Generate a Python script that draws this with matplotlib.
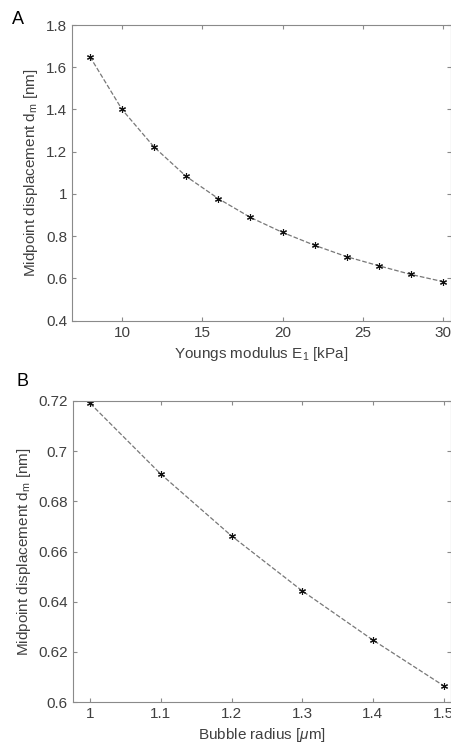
import matplotlib
matplotlib.use("Agg")
import matplotlib.pyplot as plt

# Panel A: Young's modulus sweep
modulus_kpa = [8, 10, 12, 14, 16, 18, 20, 22, 24, 26, 28, 30]
disp_a_nm = [1.65, 1.40, 1.222, 1.083, 0.978, 0.889, 0.818, 0.757, 0.703, 0.660, 0.619, 0.585]

# Panel B: bubble radius sweep
radius_um = [1.0, 1.1, 1.2, 1.3, 1.4, 1.5]
disp_b_nm = [0.719, 0.6908, 0.6662, 0.6443, 0.6247, 0.6065]

AX_COL = "#8a8a8a"
TXT_COL = "#404040"

plt.rcParams["font.family"] = ["Liberation Sans", "DejaVu Sans"]
plt.rcParams["mathtext.fontset"] = "custom"
plt.rcParams["mathtext.rm"] = "Liberation Sans"
plt.rcParams["mathtext.it"] = "Liberation Sans:italic"

fig = plt.figure(figsize=(4.51, 7.47), dpi=100)
ax_a = fig.add_axes([0.1596, 0.5707, 0.8404, 0.3958])
ax_b = fig.add_axes([0.1610, 0.0602, 0.8390, 0.4030])


def style(ax):
    for sp in ax.spines.values():
        sp.set_color(AX_COL)
        sp.set_linewidth(0.8)
    ax.tick_params(direction="in", length=3, width=0.8, color=AX_COL,
                   labelcolor=TXT_COL, labelsize=11, top=True, right=True)


ASTERISK = (6, 2, 0)

ax_a.plot(modulus_kpa, disp_a_nm, linestyle="--", color="#777777", linewidth=0.9, zorder=1)
ax_a.plot(modulus_kpa, disp_a_nm, linestyle="none", marker=ASTERISK, color="#111111",
          markersize=5, markeredgewidth=0.8, zorder=2)
ax_a.set_xlim(6.88, 30.5)
ax_a.set_ylim(0.4, 1.8)
ax_a.set_xticks([10, 15, 20, 25, 30])
ax_a.set_yticks([0.4, 0.6, 0.8, 1.0, 1.2, 1.4, 1.6, 1.8])
ax_a.set_yticklabels(["0.4", "0.6", "0.8", "1", "1.2", "1.4", "1.6", "1.8"])
ax_a.set_xlabel("Youngs modulus E$_\\mathrm{1}$ [kPa]", fontsize=11, color=TXT_COL)
ax_a.set_ylabel("Midpoint displacement d$_\\mathrm{m}$ [nm]", fontsize=11, color=TXT_COL)
style(ax_a)

ax_b.plot(radius_um, disp_b_nm, linestyle="--", color="#777777", linewidth=0.9, zorder=1)
ax_b.plot(radius_um, disp_b_nm, linestyle="none", marker=ASTERISK, color="#111111",
          markersize=5, markeredgewidth=0.8, zorder=2)
ax_b.set_xlim(0.975, 1.5105)
ax_b.set_ylim(0.6, 0.72)
ax_b.set_xticks([1.0, 1.1, 1.2, 1.3, 1.4, 1.5])
ax_b.set_xticklabels(["1", "1.1", "1.2", "1.3", "1.4", "1.5"])
ax_b.set_yticks([0.6, 0.62, 0.64, 0.66, 0.68, 0.70, 0.72])
ax_b.set_yticklabels(["0.6", "0.62", "0.64", "0.66", "0.68", "0.7", "0.72"])
ax_b.set_xlabel("Bubble radius [$\\mu$m]", fontsize=11, color=TXT_COL)
ax_b.set_ylabel("Midpoint displacement d$_\\mathrm{m}$ [nm]", fontsize=11, color=TXT_COL)
style(ax_b)

fig.text(12 / 451, 1 - 19 / 747, "A", fontsize=13, color="black", va="center")
fig.text(17 / 451, 1 - 382 / 747, "B", fontsize=13, color="black", va="center")

fig.savefig("out.png", dpi=100, facecolor="white")
